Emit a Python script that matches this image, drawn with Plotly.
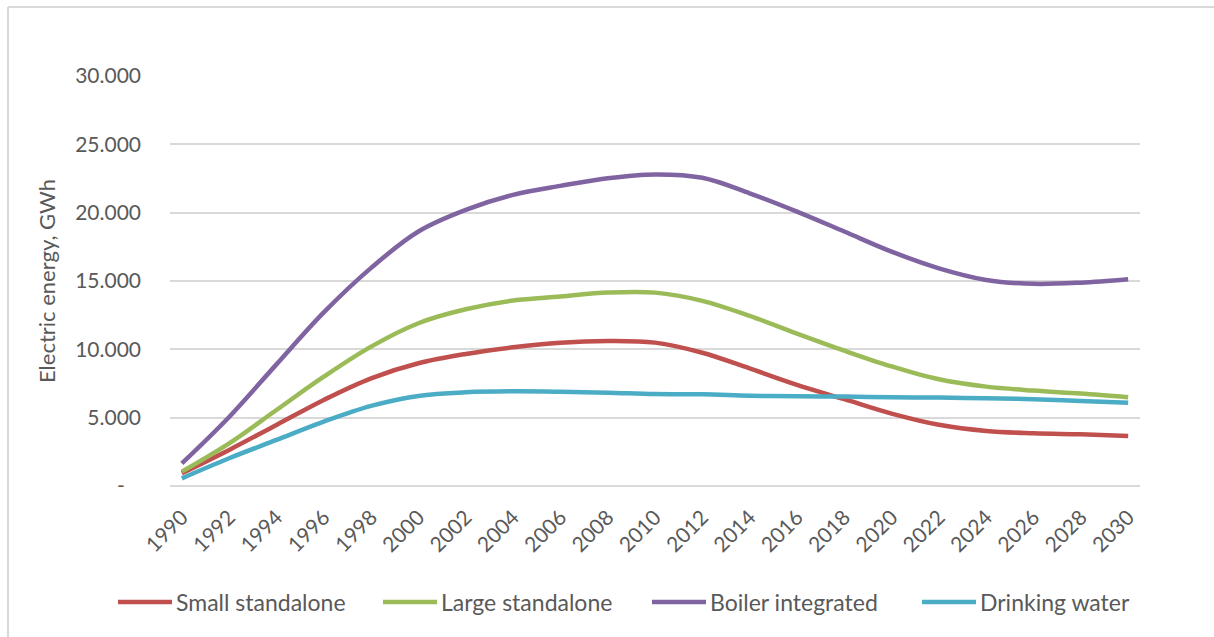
import plotly.graph_objects as go

# Annual electricity use per installation type (GWh), every second year
years = [1990, 1992, 1994, 1996, 1998, 2000, 2002, 2004, 2006, 2008, 2010,
         2012, 2014, 2016, 2018, 2020, 2022, 2024, 2026, 2028, 2030]

small_standalone = [930, 2640, 4470, 6300, 7880, 8980, 9660, 10150, 10490, 10610, 10490,
                    9750, 8600, 7400, 6350, 5300, 4480, 4030, 3860, 3780, 3660]
large_standalone = [1050, 3120, 5560, 8000, 10200, 11910, 12930, 13570, 13860, 14150, 14150,
                    13550, 12450, 11150, 9900, 8750, 7810, 7270, 6980, 6760, 6490]
boiler_integrated = [1650, 5050, 8900, 12700, 15960, 18620, 20200, 21300, 21960, 22520, 22800,
                     22550, 21420, 20080, 18620, 17150, 15930, 15080, 14790, 14880, 15130]
drinking_water = [560, 2030, 3370, 4710, 5860, 6590, 6860, 6930, 6900, 6830, 6730,
                  6710, 6610, 6560, 6540, 6490, 6470, 6420, 6350, 6220, 6100]

series_names = ["Small standalone", "Large standalone", "Boiler integrated", "Drinking water"]
series_values = [small_standalone, large_standalone, boiler_integrated, drinking_water]
series_colors = ["#C0504D", "#9BBB59", "#8064A2", "#4BACC6"]

y_tick_values = [0, 5000, 10000, 15000, 20000, 25000, 30000]
y_tick_labels = ["-\u00a0\u00a0\u00a0", "5.000", "10.000", "15.000", "20.000", "25.000", "30.000"]
x_tick_labels = [str(y) for y in years]

FONT = "Lato"
TEXT = "#595959"
GRID = "#D9D9D9"

W, H = 1214, 637
ML, MR, MT, MB = 170, 74, 76, 151
PW, PH = W - ML - MR, H - MT - MB


def px_x(p):
    return (p - ML) / PW


def px_y(p):
    return (H - MB - p) / PH


fig = go.Figure()
for name, vals, col in zip(series_names, series_values, series_colors):
    fig.add_trace(go.Scatter(
        x=years, y=vals, name=name, mode="lines",
        line=dict(color=col, width=4.5, shape="spline", smoothing=1.0),
        showlegend=False,
    ))

# Legend drawn as line samples + labels along the bottom
legend_x = [118, 383, 652, 922]
legend_y = 602
for lx, name, col in zip(legend_x, series_names, series_colors):
    fig.add_shape(type="line", xref="paper", yref="paper",
                  x0=px_x(lx), x1=px_x(lx + 54), y0=px_y(legend_y), y1=px_y(legend_y),
                  line=dict(color=col, width=4.5))
    fig.add_annotation(xref="paper", yref="paper", x=px_x(lx + 56), y=px_y(legend_y),
                       text=name, showarrow=False, xanchor="left", yanchor="middle",
                       font=dict(family=FONT, size=23, color=TEXT))

# Chart-area border (left and top edges visible)
fig.add_shape(type="line", xref="paper", yref="paper",
              x0=px_x(8), x1=px_x(8), y0=px_y(7), y1=px_y(H + 20),
              line=dict(color=GRID, width=2))
fig.add_shape(type="line", xref="paper", yref="paper",
              x0=px_x(8), x1=px_x(W + 20), y0=px_y(7), y1=px_y(7),
              line=dict(color=GRID, width=2))

fig.update_layout(
    width=W, height=H,
    margin=dict(l=ML, r=MR, t=MT, b=MB, pad=0),
    paper_bgcolor="white", plot_bgcolor="white",
    font=dict(family=FONT, size=20, color=TEXT),
    xaxis=dict(
        range=[1989.5, 2030.5], tickmode="array", tickvals=years, ticktext=x_tick_labels,
        tickangle=-45, showgrid=False, zeroline=False, showline=False, ticks="",
        ticklabelstandoff=14, tickfont=dict(family=FONT, size=21, color=TEXT),
    ),
    yaxis=dict(
        range=[0, 30000], tickmode="array", tickvals=y_tick_values, ticktext=y_tick_labels,
        showgrid=True, gridcolor=GRID, gridwidth=1.8, zeroline=True, zerolinecolor=GRID,
        zerolinewidth=1.8, showline=False, ticks="", ticklabelstandoff=28,
        tickfont=dict(family=FONT, size=21, color=TEXT),
        title=dict(text="Electric energy, GWh", standoff=13,
                   font=dict(family=FONT, size=22, color=TEXT)),
    ),
)

fig.write_html("out.html")
